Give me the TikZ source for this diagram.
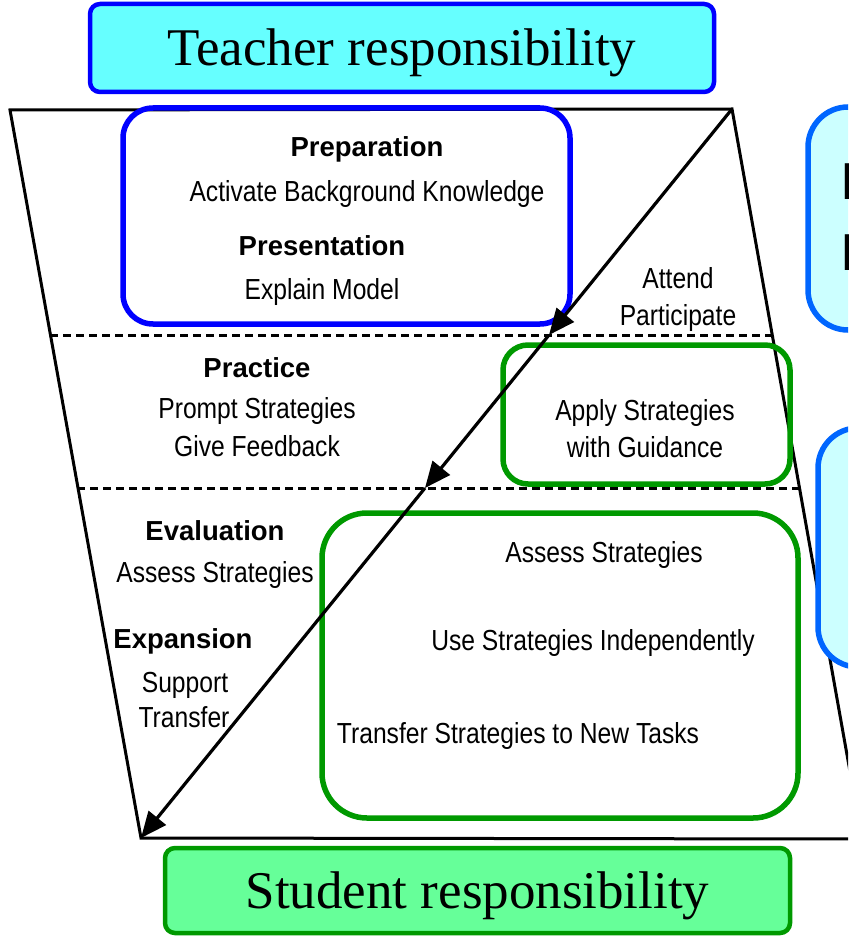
\documentclass[tikz,border=0pt]{standalone}
\usepackage{fontspec}
\setmainfont{Liberation Serif}
\newfontfamily\stepfont{Liberation Sans}[FakeStretch=0.85]
\newfontfamily\headfont{Liberation Sans}
\usetikzlibrary{arrows.meta, positioning}

\definecolor{teacherfill}{HTML}{66FFFF}
\definecolor{studentfill}{HTML}{66FF99}
\definecolor{notefill}{HTML}{CCFFFF}
\definecolor{noteline}{HTML}{0066FF}
\definecolor{groupgreen}{HTML}{009900}

\begin{document}
\begin{tikzpicture}[
    x=1pt, y=-1pt,
    banner/.style={
        rectangle,
        rounded corners=10pt,
        line width=4.5pt,
        inner sep=0pt,
        text height=35pt,
        text depth=0pt,
        font=\fontsize{53}{60}\selectfont
    },
    groupbox/.style={
        rectangle,
        line width=5.5pt,
        inner sep=0pt
    },
    head/.style={
        anchor=base,
        inner sep=0pt,
        font=\headfont\bfseries\fontsize{27.5}{32}\selectfont
    },
    task/.style={
        anchor=base,
        inner sep=0pt,
        font=\stepfont\fontsize{29}{33}\selectfont
    },
    phase/.style={
        dashed,
        line width=3pt,
        dash pattern=on 8pt off 5pt
    },
    flow/.style={
        -{Triangle[length=26pt, width=22pt]},
        line width=3.2pt
    }
]
\clip (0,0) rectangle (848,936);

% Frame
\coordinate (tl) at (10,110);
\coordinate (tr) at (732,109);
\coordinate (br) at (862,839);
\coordinate (bl) at (141,838);
\draw[line width=3pt] (tl) -- (tr) -- (br) -- (bl) -- cycle;

% Phase borders
\coordinate (d1l) at (50,335);
\coordinate (d1r) at (772,335);
\coordinate (d2l) at (77,488);
\coordinate (d2r) at (800,488);
\draw[phase] (d1l) -- (d1r);
\draw[phase] (d2l) -- (d2r);

% Banners
\node[banner, draw=blue, fill=teacherfill, minimum width=624pt, minimum height=88pt] (teacher) at (402,48) {Teacher responsibility};
\node[banner, draw=groupgreen, fill=studentfill, minimum width=625pt, minimum height=85pt] (student) at (477.5,890.5) {Student responsibility};

% Groups
\node[groupbox, draw=blue, rounded corners=30pt, minimum width=447pt, minimum height=216pt] (prepbox) at (346.5,216) {};
\node[groupbox, draw=groupgreen, rounded corners=25pt, minimum width=287pt, minimum height=139pt] (guidebox) at (646.5,414.5) {};
\node[groupbox, draw=groupgreen, rounded corners=45pt, minimum width=476pt, minimum height=305pt] (indepbox) at (560,665.5) {};
\node[groupbox, draw=noteline, fill=notefill, rounded corners=40pt, minimum width=100pt, minimum height=223pt] (notebox1) at (858,218.5) {};
\node[groupbox, draw=noteline, fill=notefill, rounded corners=40pt, minimum width=100pt, minimum height=239pt] (notebox2) at (868,547.5) {};
\node[anchor=base west, inner sep=0pt, font=\headfont\fontsize{52}{60}\selectfont] (note1a) at (840,200) {I};
\node[anchor=base west, inner sep=0pt, font=\headfont\fontsize{52}{60}\selectfont] (note1b) at (840,270) {I};

% Teacher side
\node[head] (prep) at (367,157) {Preparation};
\node[task] (prepTask) at (367,201) {Activate Background Knowledge};
\node[head] (pres) at (322,255) {Presentation};
\node[task] (presTask) at (322,299) {Explain Model};
\node[head] (practice) at (257,377) {Practice};
\node[task] (prompt) at (257,418) {Prompt Strategies};
\node[task] (feedback) at (257,456) {Give Feedback};
\node[head] (eval) at (215,540) {Evaluation};
\node[task] (evalTask) at (215,582) {Assess Strategies};
\node[head] (expand) at (183,648) {Expansion};
\node[task] (support) at (185,692) {Support};
\node[task] (transfer) at (184,727) {Transfer};

% Student side
\node[task] (attend) at (678,288) {Attend};
\node[task] (participate) at (678,325) {Participate};
\node[task] (apply) at (645,420) {Apply Strategies};
\node[task] (guidance) at (645,457) {with Guidance};
\node[task] (assess) at (604,562) {Assess Strategies};
\node[task] (useIndep) at (593,650) {Use Strategies Independently};
\node[task] (transferTasks) at (518,743) {Transfer Strategies to New Tasks};

% Shift of responsibility
\coordinate (m1) at (549,335);
\coordinate (m2) at (425,488);
\draw[flow] (tr) -- (m1);
\draw[flow] (m1) -- (m2);
\draw[flow] (m2) -- (bl);

\end{tikzpicture}
\end{document}
